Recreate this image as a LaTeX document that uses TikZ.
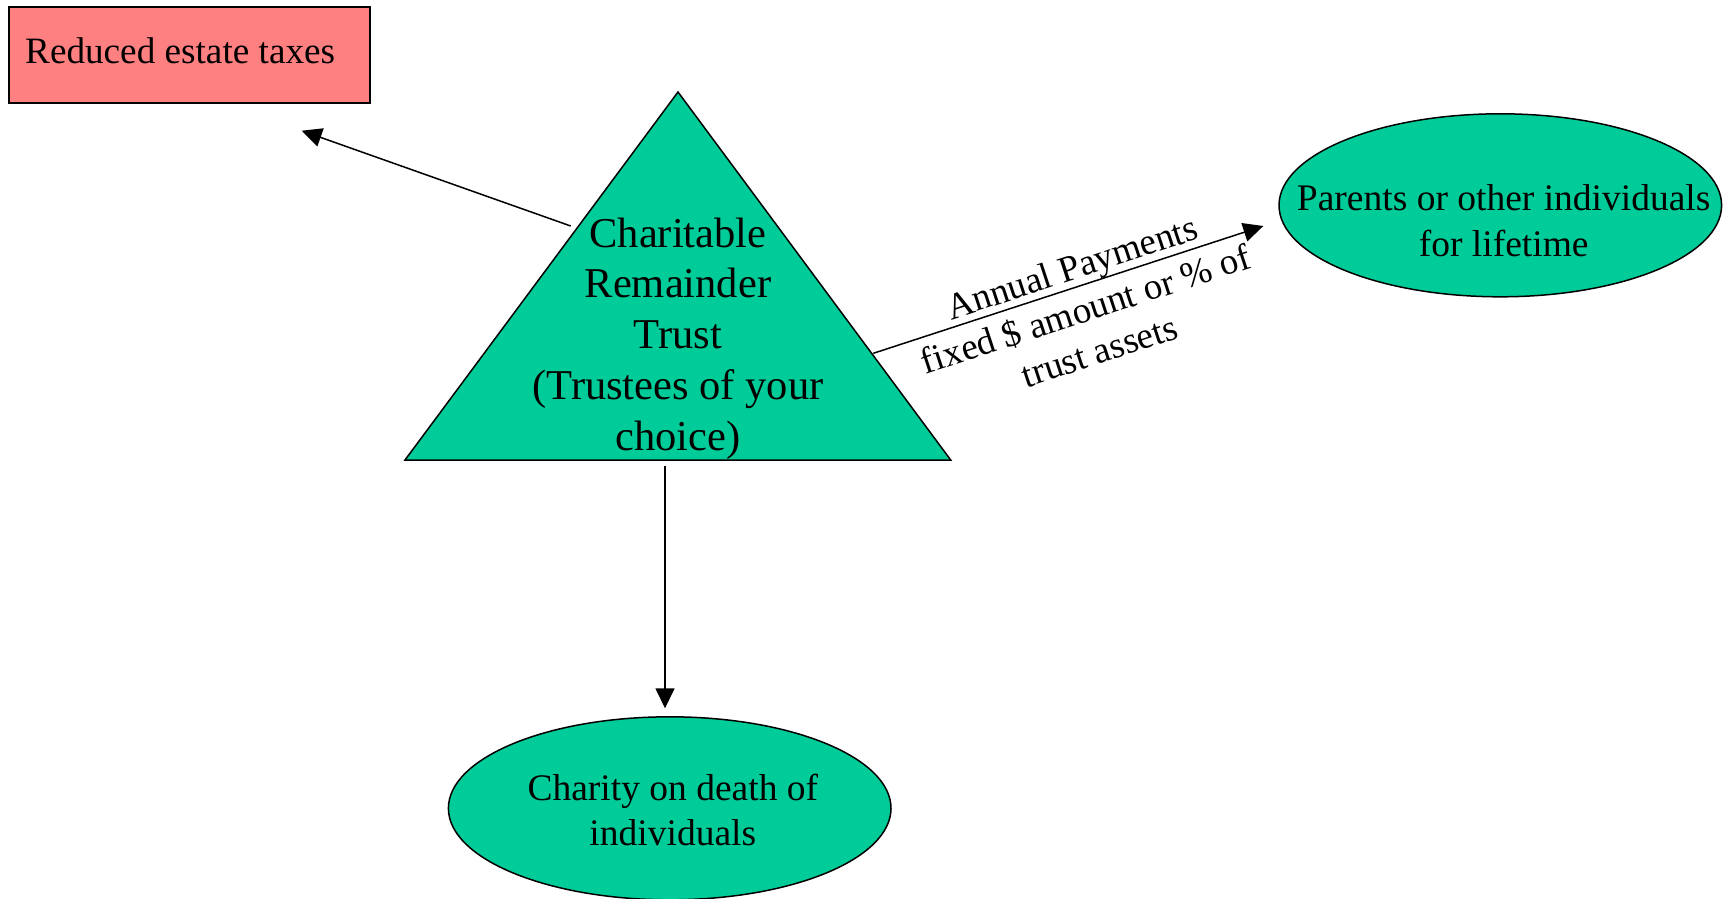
\documentclass[tikz,border=0pt]{standalone}
\usepackage{fontspec}
\setmainfont{Liberation Serif}
\usetikzlibrary{arrows.meta,shapes.geometric}

\definecolor{crtgreen}{RGB}{0,204,153}
\definecolor{taxpink}{RGB}{255,128,128}

\tikzset{
  outline/.style={draw=black, line width=1.5pt},
  flow/.style={draw=black, line width=1.5pt, -{Triangle[length=20pt,width=19pt]}},
  oval/.style={outline, ellipse, fill=crtgreen, minimum width=442.6pt, minimum height=183pt, inner sep=0pt},
  bodytext/.style={inner sep=0pt, align=center, font=\fontsize{37.5}{45}\selectfont},
}

\begin{document}
\begin{tikzpicture}[x=1pt, y=-1pt]
  \useasboundingbox (0,0) rectangle (1731,898);

  % outcome box
  \node[outline, fill=taxpink, rectangle, anchor=north west,
        minimum width=361pt, minimum height=96pt, inner sep=0pt] (tax) at (8,6) {};
  \node[anchor=base west, inner sep=0pt, font=\fontsize{37.2}{45}\selectfont]
        (taxtext) at (25,63) {Reduced estate taxes};

  % the trust
  \coordinate (apex) at (678,92);
  \coordinate (baseL) at (405,460);
  \coordinate (baseR) at (950.7,460);
  \filldraw[outline, fill=crtgreen, line join=miter] (apex) -- (baseL) -- (baseR) -- cycle;
  \node[inner sep=0pt, align=center, font=\fontsize{42.5}{50.8}\selectfont]
        (trust) at (678,338.5)
        {Charitable\\Remainder\\Trust\\(Trustees of your\\choice)};

  % beneficiaries
  \node[oval] (parents) at (1500.3,205.3) {};
  \node[bodytext, font=\fontsize{37.5}{46}\selectfont] (parentstext) at (1503.7,221)
        {Parents or other individuals\\for lifetime};

  \node[oval] (charity) at (669.7,808.3) {};
  \node[bodytext] (charitytext) at (672.8,809.7) {Charity on death of\\individuals};

  % connector ends
  \coordinate (toTaxStart) at (570.7,226);
  \coordinate (toTaxEnd) at (301.7,130.7);
  \coordinate (toParentsStart) at (873.3,353.3);
  \coordinate (toParentsEnd) at (1263.3,226);
  \coordinate (toCharityStart) at (665,465.7);
  \coordinate (toCharityEnd) at (665,708.3);

  \draw[flow] (toTaxStart) -- (toTaxEnd);
  \draw[flow] (toParentsStart) -- (toParentsEnd);
  \draw[flow] (toCharityStart) -- (toCharityEnd);

  % payment label
  \node[inner sep=0pt, align=center, rotate=18.2, font=\fontsize{37}{44}\selectfont]
        (payments) at (1085.5,309)
        {Annual Payments\\fixed \$ amount or \% of\\trust assets};
\end{tikzpicture}
\end{document}
